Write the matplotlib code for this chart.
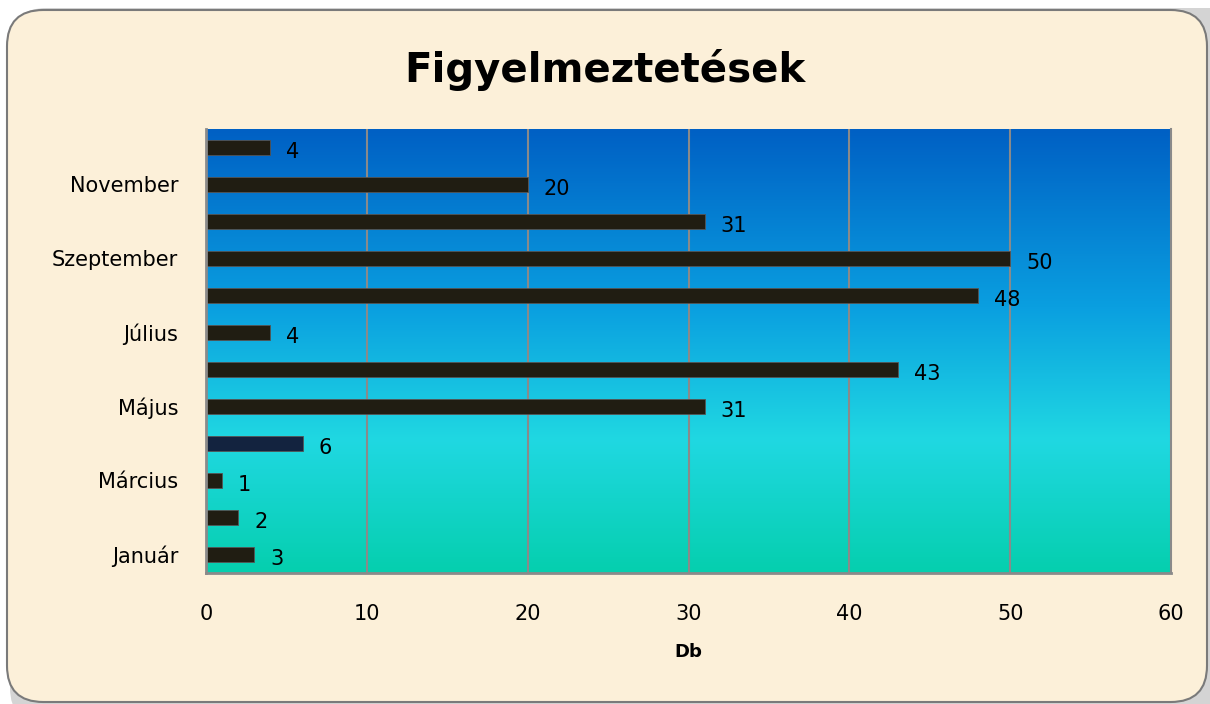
import numpy as np
import matplotlib.pyplot as plt
from matplotlib.patches import FancyBboxPatch
from matplotlib.colors import LinearSegmentedColormap

months = ['Január', 'Február', 'Március', 'Április', 'Május', 'Június',
          'Július', 'Augusztus', 'Szeptember', 'Október', 'November', 'December']
values = [3, 2, 1, 6, 31, 43, 4, 48, 50, 31, 20, 4]
shown_labels = ['Január', '', 'Március', '', 'Május', '', 'Július', '',
                'Szeptember', '', 'November', '']
bar_colors = ['#201d12'] * 12
bar_colors[3] = '#13233f'

fig = plt.figure(figsize=(12.1, 7.04), dpi=100)
fig.patch.set_facecolor('white')

# shadow + parchment frame
W, H = 1210, 704
shadow = FancyBboxPatch((10 / W, -20 / H), 1.2, (704 - 8 + 20) / H,
                        boxstyle='round,pad=0,rounding_size=0.03',
                        transform=fig.transFigure, facecolor='#b8b8b8',
                        edgecolor='none', alpha=0.6, zorder=0, mutation_aspect=W / H)
fig.patches.append(shadow)
frame = FancyBboxPatch((7 / W, 2 / H), (1207 - 7) / W, (704 - 12) / H,
                       boxstyle='round,pad=0,rounding_size=0.03',
                       transform=fig.transFigure, facecolor='#fcf0d9',
                       edgecolor='#7a7a7a', linewidth=1.5, zorder=0,
                       mutation_aspect=W / H)
fig.patches.append(frame)

ax = fig.add_axes([206 / W, 1 - 573 / H, (1171 - 206) / W, (573 - 129) / H])
ax.set_zorder(5)
ax.set_xlim(0, 60)
ax.set_ylim(-0.5, 11.5)

# gradient background
cmap = LinearSegmentedColormap.from_list('bg', [
    (0.0, '#05cfae'), (0.3, '#20d8e2'), (0.6, '#0a9fe0'), (1.0, '#0060c4')])
grad = np.linspace(0, 1, 256).reshape(-1, 1)
ax.imshow(grad, aspect='auto', cmap=cmap, extent=[0, 60, -0.5, 11.5],
          origin='lower', zorder=0)

for x in range(10, 60, 10):
    ax.axvline(x, color='#8a8a8a', linewidth=1.5, zorder=1)

y = np.arange(len(months))
ax.barh(y, values, height=0.38, color=bar_colors, edgecolor='#555555',
        linewidth=0.6, zorder=2)
for yi, v in zip(y, values):
    ax.text(v + 1.0, yi - 0.12, str(v), va='center', ha='left',
            fontsize=15, color='black', zorder=3)

ax.set_yticks(y)
ax.set_yticklabels(shown_labels, fontsize=15)
ax.set_xticks(range(0, 61, 10))
ax.tick_params(axis='x', labelsize=15, length=0, pad=22)
ax.tick_params(axis='y', length=0, pad=20)
ax.set_xlabel('Db', fontsize=13, fontweight='bold', labelpad=14)
for s in ax.spines.values():
    s.set_color('#8a8a8a')
    s.set_linewidth(2)
ax.spines['top'].set_visible(False)
ax.spines['right'].set_linewidth(1.5)

fig.text(0.5, 1 - 70 / H, 'Figyelmeztetések', ha='center', va='center',
         fontsize=29, fontweight='bold')

fig.savefig('out.png', dpi=100)
